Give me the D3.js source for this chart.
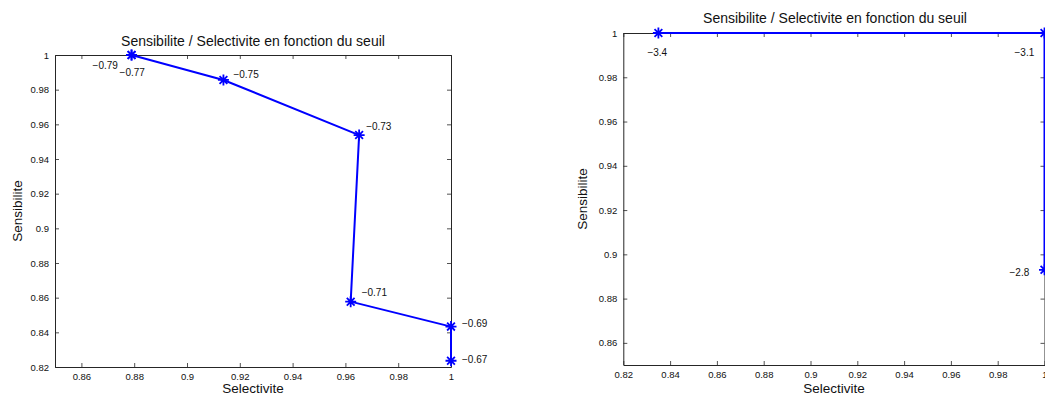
<!DOCTYPE html>
<html>
<head>
<meta charset="utf-8">
<script src="https://cdn.jsdelivr.net/npm/d3@7"></script>
<style>
  html, body { margin: 0; padding: 0; background: #fff; }
  svg { display: block; font-family: "Liberation Sans", Arial, Helvetica, sans-serif; }
</style>
</head>
<body>
<svg id="chart" width="1045" height="396"></svg>
<script>
// ---- data ----
const titleText = "Sensibilite / Selectivite en fonction du seuil";
const xLabelText = "Selectivite";
const yLabelText = "Sensibilite";

const leftSelectivite = [0.879, 0.879, 0.9138, 0.9652, 0.962, 1.0, 1.0];
const leftSensibilite = [1.0, 1.0, 0.9856, 0.9538, 0.8577, 0.8433, 0.8236];
const leftSeuils = ["\u22120.79", "\u22120.77", "\u22120.75", "\u22120.73", "\u22120.71", "\u22120.69", "\u22120.67"];
const leftXTicks = [0.86, 0.88, 0.9, 0.92, 0.94, 0.96, 0.98, 1];
const leftYTicks = [0.82, 0.84, 0.86, 0.88, 0.9, 0.92, 0.94, 0.96, 0.98, 1];

const rightSelectivite = [0.835, 1.0, 1.0];
const rightSensibilite = [1.0, 1.0, 0.893];
const rightSeuils = ["\u22123.4", "\u22123.1", "\u22122.8"];
const rightXTicks = [0.82, 0.84, 0.86, 0.88, 0.9, 0.92, 0.94, 0.96, 0.98, 1];
const rightYTicks = [0.86, 0.88, 0.9, 0.92, 0.94, 0.96, 0.98, 1];

// ---- layout / style (not data) ----
const leftLabelOffsets = [[-39, 10], [-12, 17], [10, -5], [7, -9], [11, -9], [11, -3], [11, -1]];
const rightLabelOffsets = [[-11, 19.5], [-30, 19], [-35, 3]];

const panels = [
  { xs: leftSelectivite, ys: leftSensibilite, labels: leftSeuils, offs: leftLabelOffsets,
    xDomain: [0.85, 1], yDomain: [0.82, 1], xTicks: leftXTicks, yTicks: leftYTicks,
    left: 55, right: 451, top: 55, bottom: 367,
    titleX: 253, titleY: 41, xlabY: 388.5, ylabX: 17 },
  { xs: rightSelectivite, ys: rightSensibilite, labels: rightSeuils, offs: rightLabelOffsets,
    xDomain: [0.82, 1], yDomain: [0.85, 1], xTicks: rightXTicks, yTicks: rightYTicks,
    left: 623.3, right: 1044.5, top: 33, bottom: 365,
    titleX: 835, titleY: 18, xlabY: 388, ylabX: 582 }
];

const svg = d3.select("#chart");
const fmt = v => String(+v.toFixed(2));
const blue = "#0000ff";
const axisColor = "#262626";

function asterisk(r) {
  const d = r * Math.SQRT1_2;
  return `M0,${-r}L0,${r}M${-r},0L${r},0M${-d},${-d}L${d},${d}M${-d},${d}L${d},${-d}`;
}

panels.forEach(p => {
  const x = d3.scaleLinear().domain(p.xDomain).range([p.left, p.right]);
  const y = d3.scaleLinear().domain(p.yDomain).range([p.bottom, p.top]);
  const g = svg.append("g");

  // axes with inner ticks (MATLAB box style)
  const bottomAx = d3.axisBottom(x).tickValues(p.xTicks).tickFormat(fmt).tickSizeInner(-4).tickSizeOuter(0).tickPadding(6);
  const topAx = d3.axisTop(x).tickValues(p.xTicks).tickFormat("").tickSizeInner(-4).tickSizeOuter(0);
  const leftAx = d3.axisLeft(y).tickValues(p.yTicks).tickFormat(fmt).tickSizeInner(-4).tickSizeOuter(0).tickPadding(6);
  const rightAx = d3.axisRight(y).tickValues(p.yTicks).tickFormat("").tickSizeInner(-4).tickSizeOuter(0);

  const styleAxis = sel => {
    sel.selectAll("path").attr("stroke", axisColor).attr("stroke-width", 1);
    sel.selectAll("line").attr("stroke", axisColor).attr("stroke-width", 0.8);
    sel.selectAll("text").attr("fill", "#111").attr("font-size", 9.5)
       .attr("font-family", "\"Liberation Sans\", Arial, sans-serif");
  };
  g.append("g").attr("transform", `translate(0,${p.bottom})`).call(bottomAx).call(styleAxis)
    .selectAll("text").attr("dy", "0.71em");
  g.append("g").attr("transform", `translate(0,${p.top})`).call(topAx).call(styleAxis);
  g.append("g").attr("transform", `translate(${p.left},0)`).call(leftAx).call(styleAxis);
  g.append("g").attr("transform", `translate(${p.right},0)`).call(rightAx).call(styleAxis);

  // line
  const pts = p.xs.map((v, i) => [v, p.ys[i]]);
  const line = d3.line().x(d => x(d[0])).y(d => y(d[1]));
  g.append("path").datum(pts).attr("d", line)
    .attr("fill", "none").attr("stroke", blue).attr("stroke-width", 2).attr("stroke-linejoin", "round");

  // markers
  g.selectAll(".mk").data(pts).enter().append("path")
    .attr("transform", d => `translate(${x(d[0])},${y(d[1])})`)
    .attr("d", asterisk(5.5))
    .attr("stroke", blue).attr("stroke-width", 1.8).attr("fill", "none");

  // point labels
  g.selectAll(".lb").data(pts).enter().append("text")
    .attr("x", (d, i) => x(d[0]) + p.offs[i][0])
    .attr("y", (d, i) => y(d[1]) + p.offs[i][1])
    .attr("dy", "0.35em")
    .attr("font-size", 10).attr("fill", "#111")
    .text((d, i) => p.labels[i]);

  // title
  g.append("text").attr("x", p.titleX).attr("y", p.titleY).attr("dy", "0.35em")
    .attr("text-anchor", "middle").attr("font-size", 14).attr("fill", "#111").text(titleText);
  // x label
  g.append("text").attr("x", (p.left + p.right) / 2).attr("y", p.xlabY).attr("dy", "0.35em")
    .attr("text-anchor", "middle").attr("font-size", 13.5).attr("fill", "#111").text(xLabelText);
  // y label
  g.append("text").attr("transform", `translate(${p.ylabX},${(p.top + p.bottom) / 2}) rotate(-90)`)
    .attr("dy", "0.35em").attr("text-anchor", "middle").attr("font-size", 13.5).attr("fill", "#111").text(yLabelText);
});
</script>
</body>
</html>
